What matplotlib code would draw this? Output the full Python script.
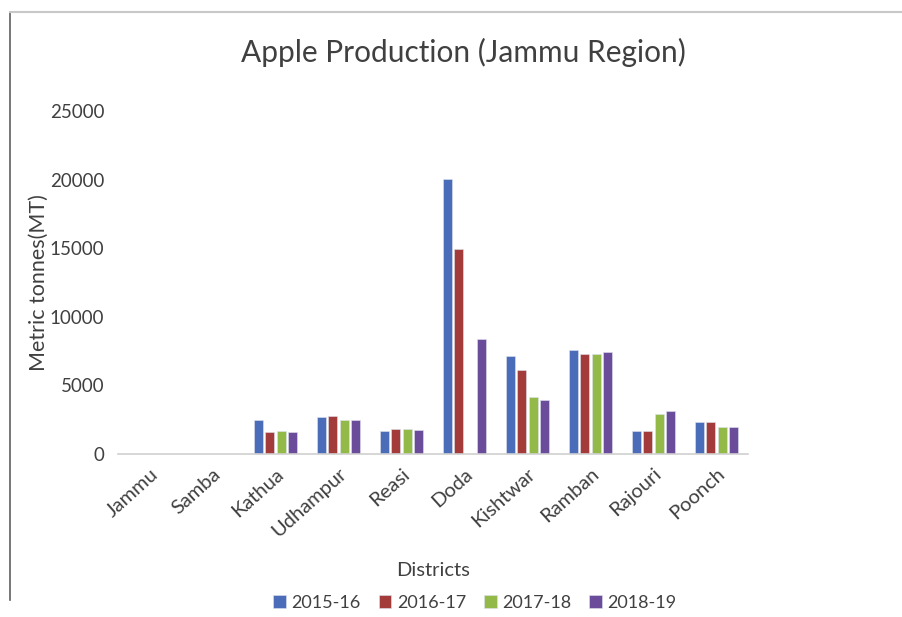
import matplotlib
matplotlib.use("Agg")
import matplotlib.pyplot as plt
from matplotlib.lines import Line2D
from matplotlib.transforms import ScaledTranslation
import numpy as np

districts = ["Jammu", "Samba", "Kathua", "Udhampur", "Reasi", "Doda",
             "Kishtwar", "Ramban", "Rajouri", "Poonch"]
y2015_16 = [0, 0, 2450, 2700, 1650, 20050, 7150, 7550, 1650, 2300]
y2016_17 = [0, 0, 1600, 2800, 1800, 14950, 6100, 7300, 1650, 2300]
y2017_18 = [0, 0, 1700, 2450, 1800, 0, 4150, 7300, 2950, 2000]
y2018_19 = [0, 0, 1600, 2450, 1750, 8350, 3900, 7400, 3150, 2000]
series_labels = ["2015-16", "2016-17", "2017-18", "2018-19"]
yticks = [0, 5000, 10000, 15000, 20000, 25000]

colors = ["#4A6CB9", "#A23B3A", "#93BA48", "#6A4C9A"]
plt.rcParams['font.family'] = ['Lato', 'DejaVu Sans']
txt = "#404040"

fig = plt.figure(figsize=(9.03, 6.17), dpi=100)
ax = fig.add_axes([118/903, 1-454/617, (748-118)/903, (454-111)/617])

x = np.arange(len(districts))
w = 0.143
pitch = 0.179
series = [y2015_16, y2016_17, y2017_18, y2018_19]
for i, (vals, lab, c) in enumerate(zip(series, series_labels, colors)):
    ax.bar(x + (i - 1.5) * pitch, vals, width=w, color=c, label=lab,
           edgecolor="#dfe3ee", linewidth=0.4)

ax.set_xlim(-0.5, len(districts) - 0.5)
ax.set_ylim(0, 25000)
ax.set_yticks(yticks)
ax.set_yticklabels([str(t) for t in yticks], fontsize=13.5, color=txt)
ax.set_xticks(x)
ax.set_xticklabels(districts, rotation=42, ha="right", rotation_mode="anchor",
                   fontsize=14.5, color=txt)
off = ScaledTranslation(10/100, -5/100, fig.dpi_scale_trans)
for lbl in ax.get_xticklabels():
    lbl.set_transform(lbl.get_transform() + off)
ax.tick_params(axis="y", length=0, pad=10)
ax.tick_params(axis="x", length=0, pad=8)
for s in ["top", "right", "left"]:
    ax.spines[s].set_visible(False)
ax.spines["bottom"].set_color("#d0d0d0")
ax.spines["bottom"].set_linewidth(1.2)

ax.set_ylabel("Metric tonnes(MT)", fontsize=15.5, color=txt)
ax.yaxis.set_label_coords(-0.11, 0.5)
fig.text(433/903, 1-571/617, "Districts", fontsize=14.5, color=txt,
         ha="center", va="center")
fig.text(463/903, 1-52/617, "Apple Production (Jammu Region)", fontsize=21.5,
         color=txt, ha="center", va="center")

leg = fig.legend(loc="center", bbox_to_anchor=(475/903, 1-603/617), ncol=4,
                 frameon=False, fontsize=13, handlelength=0.7, handleheight=0.7,
                 handletextpad=0.3, columnspacing=1.0)
for t in leg.get_texts():
    t.set_color(txt)

fig.add_artist(Line2D([10/903, 10/903], [1-12/617, 1-600/617], color="#606060",
                      linewidth=1.2, transform=fig.transFigure))
fig.add_artist(Line2D([10/903, 1.0], [1-12/617, 1-12/617], color="#c8c8c8",
                      linewidth=1.5, transform=fig.transFigure))

fig.savefig("out.png", dpi=100)
